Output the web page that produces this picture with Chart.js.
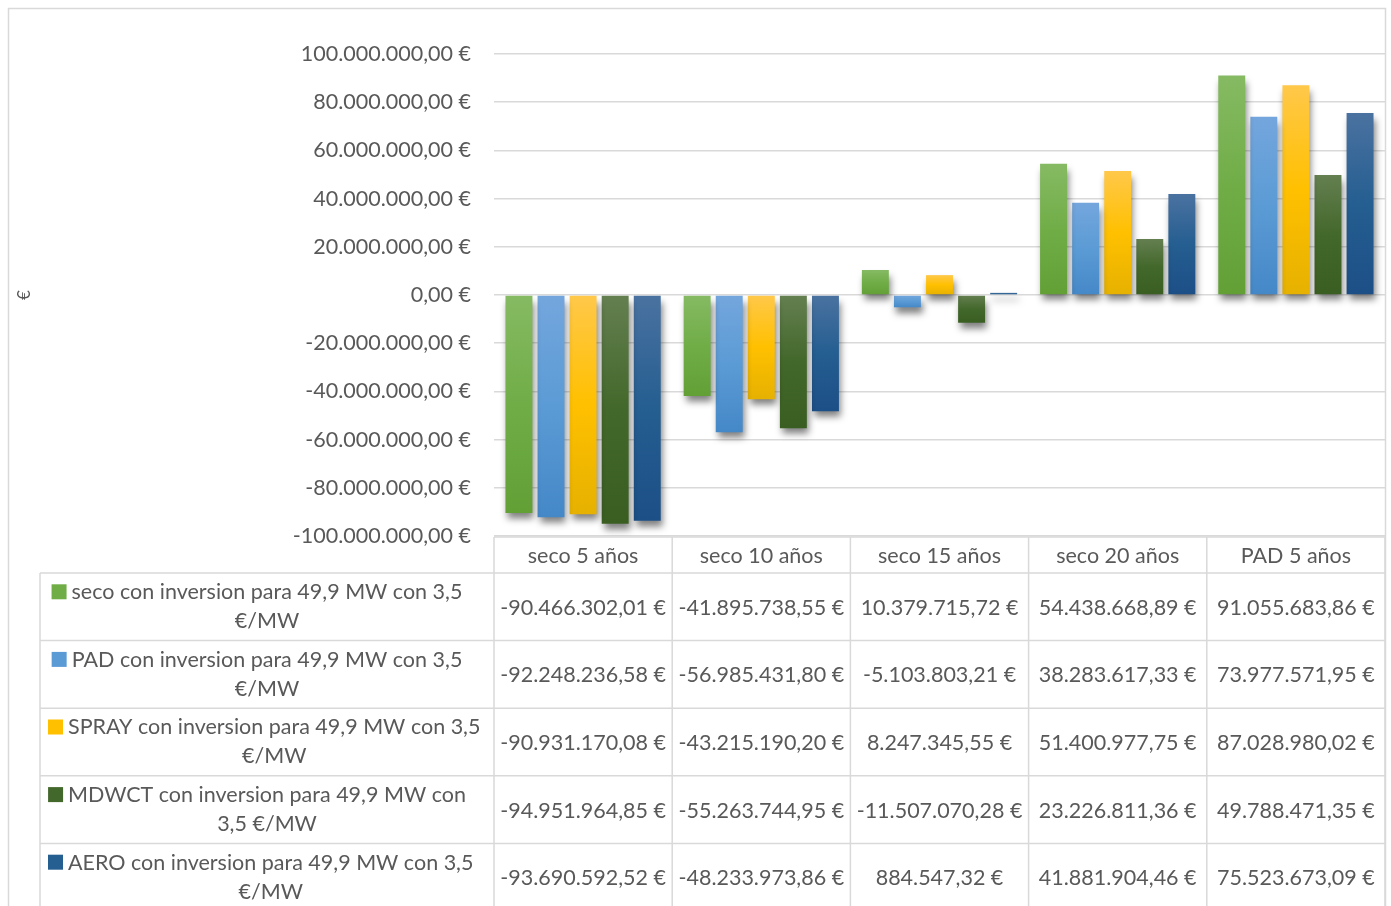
<!DOCTYPE html>
<html>
<head>
<meta charset="utf-8">
<script src="https://cdn.jsdelivr.net/npm/chart.js@4.4.1/dist/chart.umd.min.js"></script>
<style>
html,body{margin:0;padding:0;background:#fff;}
#wrap{position:relative;width:1391px;height:906px;}
</style>
</head>
<body>
<div id="wrap"><canvas id="c" width="1391" height="906"></canvas></div>
<script>
const categories = ['seco 5 años', 'seco 10 años', 'seco 15 años', 'seco 20 años', 'PAD 5 años'];
const seriesNames = [
  'seco con inversion para 49,9 MW con 3,5 €/MW',
  'PAD con inversion para 49,9 MW con 3,5 €/MW',
  'SPRAY con inversion para 49,9 MW con 3,5 €/MW',
  'MDWCT con inversion para 49,9 MW con 3,5 €/MW',
  'AERO con inversion para 49,9 MW con 3,5 €/MW'
];
const secoValues  = [-90466302.01, -41895738.55, 10379715.72, 54438668.89, 91055683.86];
const padValues   = [-92248236.58, -56985431.80, -5103803.21, 38283617.33, 73977571.95];
const sprayValues = [-90931170.08, -43215190.20, 8247345.55, 51400977.75, 87028980.02];
const mdwctValues = [-94951964.85, -55263744.95, -11507070.28, 23226811.36, 49788471.35];
const aeroValues  = [-93690592.52, -48233973.86, 884547.32, 41881904.46, 75523673.09];
const yMin = -100000000, yMax = 100000000, yStep = 20000000;
const yAxisTitle = '€';

const FONT = 'Lato';
const FS = 21.5;
const TXT = '#595959';
const LINE = '#d9d9d9';

const palettes = [
  ['#86ba63', '#70ad47', '#62a036'],
  ['#74a6dd', '#5b9bd5', '#4588c8'],
  ['#ffc84a', '#ffc000', '#e6b100'],
  ['#647f50', '#43682b', '#3a5e22'],
  ['#4a72a0', '#255e91', '#1c4f86']
];
const keyColors = ['#70ad47', '#5b9bd5', '#ffc000', '#43682b', '#255e91'];
const allValues = [secoValues, padValues, sprayValues, mdwctValues, aeroValues];

function fmtEuro(v) {
  const s = Math.abs(v).toFixed(2);
  const parts = s.split('.');
  const ip = parts[0].replace(/\B(?=(\d{3})+(?!\d))/g, '.');
  return (v < 0 ? '-' : '') + ip + ',' + parts[1] + ' €';
}

function gradFill(stops) {
  return (ctx) => {
    const chart = ctx.chart;
    const ys = chart.scales && chart.scales.y;
    if (!ys || ctx.type !== 'data' || typeof ctx.raw !== 'number') return stops[1];
    const y0 = ys.getPixelForValue(0), y1 = ys.getPixelForValue(ctx.raw);
    const top = Math.min(y0, y1), bot = Math.max(y0, y1);
    if (!isFinite(top) || bot - top < 1) return stops[1];
    const g = chart.ctx.createLinearGradient(0, top, 0, bot);
    g.addColorStop(0, stops[0]);
    g.addColorStop(0.5, stops[1]);
    g.addColorStop(1, stops[2]);
    return g;
  };
}

const shadowPlugin = {
  id: 'shadow',
  beforeDatasetsDraw(chart) {
    const c = chart.ctx;
    c.save();
    c.shadowColor = 'rgba(0,0,0,0.5)';
    c.shadowBlur = 7;
    c.shadowOffsetX = 2;
    c.shadowOffsetY = 6;
  },
  afterDatasetsDraw(chart) {
    chart.ctx.restore();
  }
};

function wrapText(c, text, maxW) {
  const words = text.split(' ');
  const lines = [];
  let cur = '';
  for (const w of words) {
    const test = cur ? cur + ' ' + w : w;
    if (c.measureText(test).width > maxW && cur) {
      lines.push(cur);
      cur = w;
    } else cur = test;
  }
  if (cur) lines.push(cur);
  return lines;
}

const tablePlugin = {
  id: 'dataTable',
  afterDraw(chart) {
    const c = chart.ctx;
    const xs = chart.scales.x;
    const area = chart.chartArea;
    const left = area.left, right = area.right;
    const colW = (right - left) / categories.length;
    const headTop = area.bottom + 1;
    const headBot = 573;
    const rowH = 67.6;
    const legLeft = 40;
    const H = chart.height;

    c.save();
    c.strokeStyle = LINE;
    c.lineWidth = 1.5;
    c.beginPath();
    c.moveTo(8.5, H + 2); c.lineTo(8.5, 8.5); c.lineTo(1385.5, 8.5); c.lineTo(1385.5, H + 2);
    c.stroke();

    c.beginPath();
    c.moveTo(left, headTop); c.lineTo(right, headTop);
    for (let i = 0; i < seriesNames.length; i++) {
      const y = headBot + i * rowH;
      c.moveTo(legLeft, y); c.lineTo(right, y);
    }
    for (let i = 0; i <= categories.length; i++) {
      const x = left + i * colW;
      c.moveTo(x, headTop); c.lineTo(x, H);
    }
    c.moveTo(legLeft, headBot); c.lineTo(legLeft, H);
    c.stroke();

    c.fillStyle = TXT;
    c.font = FS + 'px ' + FONT;
    c.textBaseline = 'middle';
    c.textAlign = 'center';
    categories.forEach((cat, i) => {
      c.fillText(cat, xs.getPixelForValue(i), (headTop + headBot) / 2 + 1);
    });
    const legCenter = (legLeft + left) / 2;
    const lineH = 29;
    seriesNames.forEach((name, r) => {
      const yc = headBot + r * rowH + rowH / 2;
      allValues[r].forEach((v, i) => {
        c.textAlign = 'center';
        c.fillStyle = TXT;
        c.fillText(fmtEuro(v), xs.getPixelForValue(i), yc + 1);
      });
      const lines = wrapText(c, name, 422);
      const w0 = c.measureText(lines[0]).width;
      let tl = legCenter - w0 / 2;
      if (tl < 68) tl = 68;
      const center = tl + w0 / 2;
      const startY = yc - (lines.length - 1) * lineH / 2;
      lines.forEach((ln, k) => {
        const y = startY + k * lineH;
        c.fillStyle = TXT;
        c.textAlign = 'center';
        c.fillText(ln, center, y);
        if (k === 0) {
          c.fillStyle = keyColors[r];
          c.fillRect(tl - 20, y - 8, 15, 15);
        }
      });
    });
    c.restore();
  }
};

const datasets = allValues.map((vals, i) => ({
  label: seriesNames[i],
  data: vals,
  backgroundColor: gradFill(palettes[i]),
  borderWidth: 0,
  categoryPercentage: 0.9,
  barPercentage: 0.84
}));

new Chart(document.getElementById('c'), {
  type: 'bar',
  data: { labels: categories, datasets },
  options: {
    responsive: false,
    animation: false,
    devicePixelRatio: 1,
    layout: { padding: { left: 10, top: 54, right: 6, bottom: 370 } },
    plugins: { legend: { display: false }, tooltip: { enabled: false } },
    scales: {
      x: { display: false },
      y: {
        min: yMin, max: yMax,
        afterFit(scale) { scale.width = 484; },
        ticks: {
          stepSize: yStep,
          padding: 23,
          color: TXT,
          font: { family: FONT, size: FS },
          callback: (v) => fmtEuro(v)
        },
        grid: { color: LINE, lineWidth: 1.5, drawTicks: false },
        border: { display: false },
        title: { display: true, text: yAxisTitle, color: TXT, font: { family: FONT, size: 17 } }
      }
    }
  },
  plugins: [shadowPlugin, tablePlugin]
});
</script>
</body>
</html>
